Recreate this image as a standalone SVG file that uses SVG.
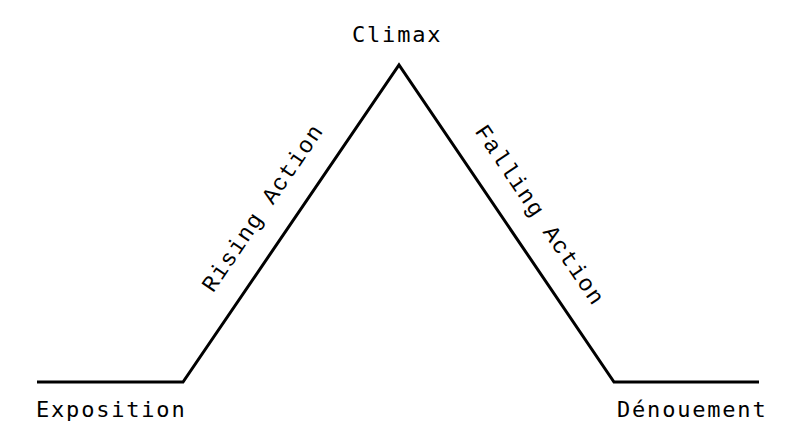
<svg xmlns="http://www.w3.org/2000/svg" width="800" height="441" viewBox="0 0 800 441">
<style>
.lbl{font-family:"DejaVu Sans Mono","Liberation Mono",monospace;font-size:22px;letter-spacing:1.8px;fill:#000}
.side{font-family:"Liberation Mono","Courier New",monospace;font-size:23px;letter-spacing:1.4px;fill:#000;text-anchor:middle}
.arc{fill:none;stroke:#000;stroke-width:3;stroke-linejoin:miter}
</style>
<rect width="800" height="441" fill="#fff"/>
<g id="connectors">
<polyline class="arc" points="37,382 183,382 399,65 614,382 759,382"/>
</g>
<g id="climax"><text class="lbl" x="352" y="42">Climax</text></g>
<g id="exposition"><text class="lbl" x="36" y="417">Exposition</text></g>
<g id="denouement"><text class="lbl" x="617" y="417">Dénouement</text></g>
<g id="rising"><text class="side" transform="translate(268.7,211.9) rotate(-55.7)">Rising Action</text></g>
<g id="falling"><text class="side" transform="translate(533.8,219.3) rotate(55.9)">Falling Action</text></g>
</svg>
